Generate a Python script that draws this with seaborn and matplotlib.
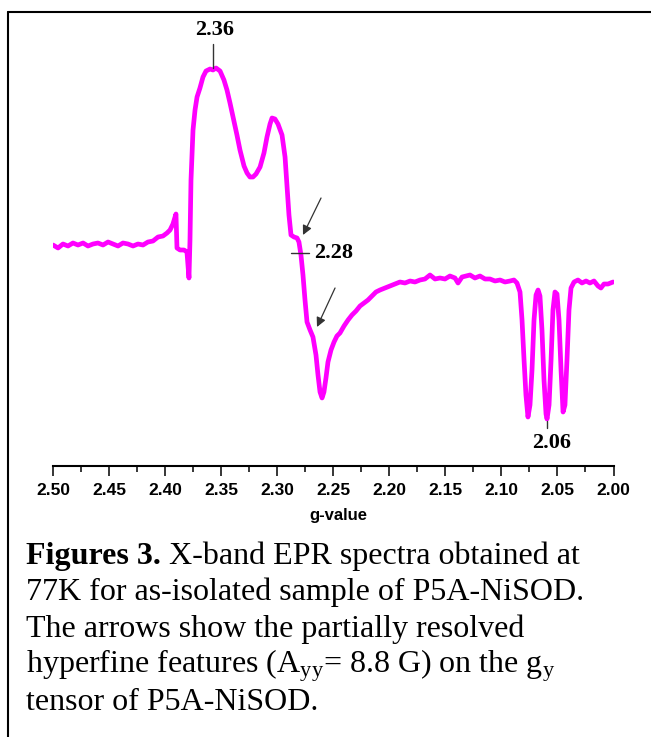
import numpy as np
import pandas as pd
import matplotlib
matplotlib.use('Agg')
import matplotlib.pyplot as plt
from matplotlib.lines import Line2D
import seaborn as sns

# g-value axis and EPR signal (arbitrary units, baseline ~ 0)
g_value = [2.5000, 2.4955, 2.4911, 2.4866, 2.4822, 2.4777, 2.4732, 2.4688, 2.4643, 2.4599,
           2.4554, 2.4509, 2.4465, 2.4420, 2.4376, 2.4331, 2.4286, 2.4242, 2.4197, 2.4153,
           2.4108, 2.4063, 2.4019, 2.3983, 2.3956, 2.3930, 2.3903, 2.3894, 2.3867, 2.3831,
           2.3805, 2.3787, 2.3778, 2.3769, 2.3751, 2.3733, 2.3715, 2.3689, 2.3662, 2.3635,
           2.3599, 2.3573, 2.3546, 2.3510, 2.3475, 2.3448, 2.3421, 2.3394, 2.3359, 2.3332,
           2.3296, 2.3269, 2.3243, 2.3216, 2.3189, 2.3153, 2.3118, 2.3091, 2.3064, 2.3046,
           2.3020, 2.2993, 2.2957, 2.2930, 2.2913, 2.2895, 2.2877, 2.2850, 2.2823, 2.2806,
           2.2788, 2.2770, 2.2752, 2.2734, 2.2707, 2.2681, 2.2654, 2.2636, 2.2618, 2.2600,
           2.2583, 2.2565, 2.2547, 2.2520, 2.2493, 2.2467, 2.2440, 2.2404, 2.2368, 2.2333,
           2.2297, 2.2261, 2.2226, 2.2190, 2.2154, 2.2119, 2.2083, 2.2038, 2.1994, 2.1949,
           2.1905, 2.1860, 2.1815, 2.1771, 2.1726, 2.1682, 2.1637, 2.1592, 2.1548, 2.1503,
           2.1459, 2.1414, 2.1387, 2.1351, 2.1316, 2.1280, 2.1236, 2.1191, 2.1146, 2.1102,
           2.1057, 2.1012, 2.0968, 2.0923, 2.0888, 2.0861, 2.0834, 2.0816, 2.0798, 2.0781,
           2.0763, 2.0745, 2.0727, 2.0709, 2.0691, 2.0673, 2.0656, 2.0638, 2.0620, 2.0602,
           2.0593, 2.0575, 2.0557, 2.0540, 2.0522, 2.0504, 2.0486, 2.0468, 2.0450, 2.0433,
           2.0415, 2.0397, 2.0379, 2.0352, 2.0317, 2.0281, 2.0245, 2.0210, 2.0174, 2.0138,
           2.0112, 2.0085, 2.0049, 2.0004]
signal = [0, -3, 1, -1, 2, 0, 2, -1, 1, 2,
          0, 3, 1, -1, 2, 1, -1, 1, 0, 3,
          4, 8, 9, 12, 15, 21, 31, -3, -5, -5,
          -7, -33, 5, 65, 115, 135, 148, 157, 168, 174,
          176, 175, 177, 174, 165, 155, 142, 128, 110, 95,
          79, 72, 68, 68, 71, 78, 92, 108, 121, 127,
          126, 121, 110, 88, 60, 30, 10, 8, 7, 3,
          -10, -30, -55, -77, -85, -92, -110, -130, -147, -153,
          -147, -133, -117, -105, -97, -91, -88, -81, -75, -70,
          -66, -61, -58, -55, -51, -47, -45, -43, -41, -39,
          -37, -38, -36, -37, -35, -34, -30, -34, -33, -34,
          -31, -33, -38, -32, -31, -30, -33, -31, -34, -34,
          -36, -35, -37, -36, -35, -38, -47, -75, -115, -150,
          -172, -160, -125, -75, -50, -45, -51, -85, -135, -169,
          -174, -160, -115, -65, -47, -49, -75, -125, -167, -160,
          -115, -65, -43, -37, -35, -38, -36, -38, -36, -41,
          -43, -39, -39, -37]

major_ticks = [2.50, 2.45, 2.40, 2.35, 2.30, 2.25, 2.20, 2.15, 2.10, 2.05, 2.00]
tick_labels = ['%.2f' % t for t in major_ticks]
minor_ticks = [2.475, 2.425, 2.375, 2.325, 2.275, 2.225, 2.175, 2.125, 2.075, 2.025]

caption_bold = 'Figures 3.'
caption_lines = [' X-band EPR spectra obtained at',
                 '77K for as-isolated sample of P5A-NiSOD.',
                 'The arrows show the partially resolved',
                 r'hyperfine features (A$_{\mathrm{yy}}$= 8.8 G) on the g$_{\mathrm{y}}$',
                 'tensor of P5A-NiSOD.']

df = pd.DataFrame({'g': g_value, 'signal': signal})

sns.set_style('white')
plt.rcParams['font.family'] = ['Liberation Serif', 'DejaVu Sans']
plt.rcParams['text.color'] = 'black'
plt.rcParams['xtick.color'] = 'black'
plt.rcParams['axes.labelcolor'] = 'black'
plt.rcParams['mathtext.fontset'] = 'custom'
plt.rcParams['mathtext.rm'] = 'Liberation Serif'
plt.rcParams['mathtext.it'] = 'Liberation Serif:italic'
plt.rcParams['mathtext.bf'] = 'Liberation Serif:bold'

W, H = 651, 737
fig = plt.figure(figsize=(W / 100, H / 100), dpi=100)
ax = fig.add_axes([53 / W, 1 - 466 / H, (613.5 - 53) / W, (466 - 20) / H])

sns.lineplot(data=df, x='g', y='signal', sort=False, estimator=None,
             color='#ff00ff', lw=3.4, ax=ax)

ax.set_xlim(2.50, 2.00)
ax.set_ylim(-221, 225)
for s in ['left', 'top', 'right']:
    ax.spines[s].set_visible(False)
ax.spines['bottom'].set_linewidth(1.5)
ax.spines['bottom'].set_color('black')
ax.set_yticks([])
ax.set_ylabel('')
ax.set_xticks(major_ticks)
ax.set_xticklabels(tick_labels, fontfamily='Liberation Sans', fontweight='bold', fontsize=12.5)
ax.set_xticks(minor_ticks, minor=True)
ax.tick_params(axis='x', which='both', bottom=True)
ax.tick_params(axis='x', which='major', direction='out', length=7, width=1.1, pad=5, color='black')
ax.tick_params(axis='x', which='minor', direction='out', length=4.5, width=1.1, color='black')
ax.set_xlabel('g-value', fontfamily='Liberation Sans', fontweight='bold', fontsize=12)
ax.xaxis.set_label_coords((338 - 53) / (613.5 - 53), -0.095)
ax.patch.set_alpha(0)

# peak markers
lbl = dict(fontfamily='Liberation Serif', fontweight='bold', fontsize=16)
ax.plot([2.357, 2.357], [177, 201], color='#333333', lw=1)
ax.text(2.356, 205, '2.36', ha='center', va='bottom', **lbl)
ax.plot([2.2877, 2.2716], [-8, -8], color='#333333', lw=1)
ax.text(2.2672, -8, '2.28', ha='left', va='center', **lbl)
ax.plot([2.0593, 2.0593], [-176, -183], color='#333333', lw=1)
ax.text(2.0549, -198, '2.06', ha='center', va='center', **lbl)

# arrows at the hyperfine features
arr = dict(arrowstyle='-|>', color='#333333', lw=0.9, mutation_scale=14, shrinkA=0, shrinkB=0)
ax.annotate('', xy=(2.2770, 10), xytext=(2.2609, 47), arrowprops=arr)
ax.annotate('', xy=(2.2645, -82), xytext=(2.2484, -43), arrowprops=arr)

# frame of the figure panel
fig.add_artist(Line2D([8 / W, 1], [1 - 12 / H, 1 - 12 / H], transform=fig.transFigure,
                      color='black', lw=1.5))
fig.add_artist(Line2D([8 / W, 8 / W], [0, 1 - 12 / H], transform=fig.transFigure,
                      color='black', lw=1.5))

# caption
cap_size = 23
baselines = [564, 600, 636.5, 673, 709.5]
t0 = fig.text(26 / W, 1 - baselines[0] / H, caption_bold, fontsize=cap_size,
              fontweight='bold', va='baseline', ha='left', color='black')
renderer = fig.canvas.get_renderer()
bb = t0.get_window_extent(renderer=renderer)
fig.text(bb.x1 / W, 1 - baselines[0] / H, caption_lines[0], fontsize=cap_size,
         va='baseline', ha='left', color='black')
for line, yb in zip(caption_lines[1:], baselines[1:]):
    fig.text(26 / W, 1 - yb / H, line, fontsize=cap_size, va='baseline', ha='left',
             color='black')

fig.savefig('out.png', dpi=100)
